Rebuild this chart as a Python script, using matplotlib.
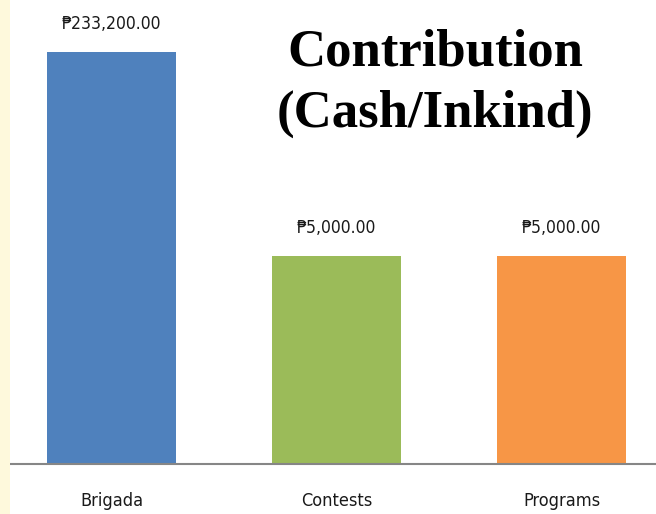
import matplotlib.pyplot as plt
import matplotlib.patches as mpatches

categories = ["Brigada", "Contests", "Programs"]
amounts = [233200, 5000, 5000]
value_labels = ["₱233,200.00", "₱5,000.00", "₱5,000.00"]
bar_colors = ["#4F81BD", "#9BBB59", "#F79646"]

plt.rcParams['font.family'] = ['DejaVu Sans']
plt.rcParams['font.stretch'] = 'condensed'

fig = plt.figure(figsize=(6.56, 5.14), dpi=100)
# pale yellow strip on the left edge (slide background)
fig.patches.append(mpatches.Rectangle((0, 0), 10 / 656, 1, transform=fig.transFigure,
                                      facecolor="#FEF9DC", edgecolor="none", zorder=0))

ax = fig.add_axes([10 / 656, 50 / 514, 646 / 656, 464 / 514])
x = list(range(len(categories)))
ax.bar(x, amounts, width=0.573, color=bar_colors, bottom=0, zorder=2)
ax.set_yscale('log')
ax.set_ylim(100, 621000)
ax.set_xlim(-0.451, 2.42)

for xi, v, lab in zip(x, amounts, value_labels):
    ax.annotate(lab, (xi, v), xytext=(0, 13.5), textcoords='offset points',
                ha='center', va='bottom', fontsize=12.6, color='#1a1a1a',
                stretch='condensed')

ax.set_xticks(x)
ax.set_xticklabels(categories, fontsize=13, color='#1a1a1a', stretch='condensed')
ax.tick_params(axis='x', length=0, pad=20)
ax.set_yticks([])
ax.yaxis.set_minor_locator(plt.NullLocator())
for side in ['top', 'right', 'left']:
    ax.spines[side].set_visible(False)
ax.spines['bottom'].set_color('#868686')
ax.spines['bottom'].set_linewidth(1.5)

fig.text(435 / 656, 1 - 83 / 514, "Contribution\n(Cash/Inkind)", ha='center', va='center',
         fontsize=38, fontweight='bold', family='Liberation Serif', stretch='normal',
         linespacing=1.36)

plt.savefig('out.png', dpi=100)
